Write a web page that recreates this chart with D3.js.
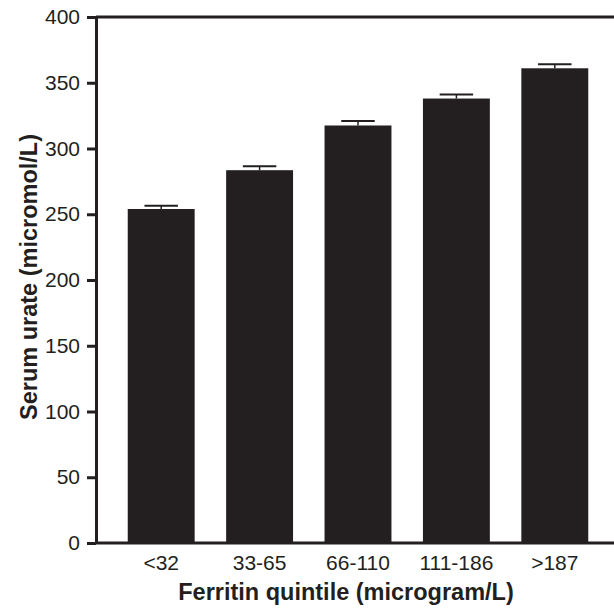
<!DOCTYPE html>
<html><head><meta charset="utf-8">
<script src="https://cdn.jsdelivr.net/npm/d3@7"></script>
<style>body{margin:0;background:#fff}</style>
</head><body><svg id="c" width="614" height="609"></svg>
<script>
const categories = ["<32", "33-65", "66-110", "111-186", ">187"];
const values = [254, 283.5, 317.5, 338, 361];
const errors = [2.5, 3, 3.5, 3, 3];
const yTicks = [0, 50, 100, 150, 200, 250, 300, 350, 400];

(function(){
const svg = d3.select("#c");
const mLeft = 96, mTop = 17, mBottom = 543, mRight = 653;
const x = d3.scaleBand().domain(categories).range([112, 604]).paddingInner(0.32).paddingOuter(0.16);
const y = d3.scaleLinear().domain([0, 400]).range([mBottom, mTop]);
const ink = "#231f20";
const font = "Liberation Sans, Arial, sans-serif";

svg.selectAll("rect.bar").data(values).enter().append("rect")
  .attr("class", "bar")
  .attr("x", (d,i) => x(categories[i])).attr("width", x.bandwidth())
  .attr("y", d => y(d)).attr("height", d => mBottom - y(d))
  .attr("fill", ink);
const cap = x.bandwidth() * 0.5;
values.forEach((v,i) => {
  const cx = x(categories[i]) + x.bandwidth()/2;
  svg.append("line").attr("x1", cx).attr("x2", cx).attr("y1", y(v)).attr("y2", y(v+errors[i])).attr("stroke", ink).attr("stroke-width", 1.5);
  svg.append("line").attr("x1", cx-cap/2).attr("x2", cx+cap/2).attr("y1", y(v+errors[i])).attr("y2", y(v+errors[i])).attr("stroke", ink).attr("stroke-width", 2);
});

svg.append("line").attr("x1", mLeft).attr("x2", mRight).attr("y1", mTop).attr("y2", mTop).attr("stroke", ink).attr("stroke-width", 3);
svg.append("line").attr("x1", mLeft).attr("x2", mRight).attr("y1", mBottom).attr("y2", mBottom).attr("stroke", ink).attr("stroke-width", 3);

const yAxis = svg.append("g").attr("transform", `translate(${mLeft},0)`)
  .call(d3.axisLeft(y).tickValues(yTicks).tickSize(9).tickPadding(7).tickSizeOuter(0));
yAxis.select(".domain").attr("stroke", ink).attr("stroke-width", 3);
yAxis.selectAll(".tick line").attr("stroke", ink).attr("stroke-width", 3);
yAxis.selectAll(".tick text").attr("font-family", font).attr("font-size", 21).attr("fill", ink);

const xAxis = svg.append("g").attr("transform", `translate(0,${mBottom})`)
  .call(d3.axisBottom(x).tickSize(0).tickPadding(12));
xAxis.select(".domain").remove();
xAxis.selectAll(".tick text").attr("font-family", font).attr("font-size", 21).attr("fill", ink);

svg.append("text").attr("x", 346).attr("y", 600).attr("text-anchor", "middle")
  .attr("font-family", font).attr("font-size", 23.5).attr("font-weight", "bold").attr("fill", ink)
  .text("Ferritin quintile (microgram/L)");
svg.append("text").attr("transform", `translate(37,277) rotate(-90)`).attr("text-anchor", "middle")
  .attr("font-family", font).attr("font-size", 23.5).attr("font-weight", "bold").attr("fill", ink)
  .text("Serum urate (micromol/L)");
})();
</script></body></html>
